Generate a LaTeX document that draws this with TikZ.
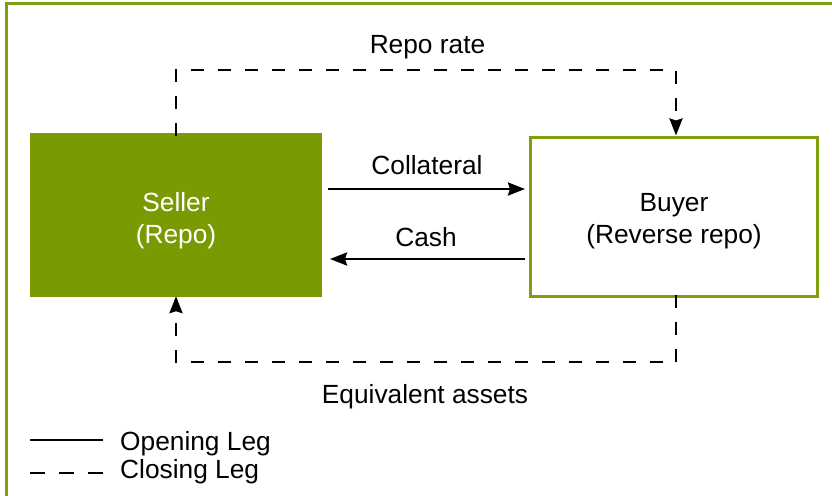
\documentclass[tikz,border=0pt]{standalone}
\usepackage{fontspec}
\setmainfont{Liberation Sans}
\usetikzlibrary{arrows.meta}
\definecolor{olive}{HTML}{7A9A02}
\definecolor{frame}{HTML}{7FA00E}
\tikzset{
  lbl/.style={font=\fontsize{26.3}{32}\selectfont, text=black, inner sep=0pt, anchor=base},
  sellerbox/.style={fill=olive, draw=none, minimum width=292pt, minimum height=164pt},
  buyerbox/.style={draw=frame, line width=3pt, fill=white, minimum width=287pt, minimum height=159pt},
  solidarrow/.style={line width=2.6pt, -{Stealth[length=17pt,width=13pt,inset=2pt]}},
  dasharrow/.style={line width=2.6pt, dash pattern=on 13pt off 14pt, -{Stealth[length=17pt,width=13pt,inset=2pt]}},
}
\begin{document}
\begin{tikzpicture}[x=1pt,y=-1pt]
\useasboundingbox (0,0) rectangle (832,495);
\draw[frame, line width=3pt] (6,520) -- (6,4) -- (850,4);
\node[sellerbox] (seller) at (176,215) {};
\node[buyerbox] (buyer) at (673.5,216.5) {};
\node[lbl, text=white] (seller1) at (176,211.7) {Seller};
\node[lbl, text=white] (seller2) at (176,243.5) {(Repo)};
\node[lbl] (buyer1) at (674,211.7) {Buyer};
\node[lbl] (buyer2) at (674,243.5) {(Reverse repo)};
\coordinate (tl) at (176,70);
\coordinate (tr) at (676,70);
\coordinate (bl) at (176,362);
\coordinate (br) at (676,362);
\draw[dasharrow] ([yshift=-3pt]seller.north) -- (tl) -- (tr) -- (tr |- buyer.north);
\draw[dasharrow] ([yshift=3pt]br |- buyer.south) -- (br) -- (bl) -- ([yshift=1pt]seller.south);
\coordinate (c1) at (328,189);
\coordinate (c2) at (525,189);
\coordinate (k1) at (525,259);
\coordinate (k2) at (330,259);
\draw[solidarrow] (c1) -- (c2);
\draw[solidarrow] (k1) -- (k2);
\node[lbl] (repo) at (427.5,53.3) {Repo rate};
\node[lbl] (coll) at (427,174) {Collateral};
\node[lbl] (cash) at (426,246) {Cash};
\node[lbl] (equiv) at (425,403) {Equivalent assets};
\coordinate (l1a) at (30,440);
\coordinate (l1b) at (103,440);
\coordinate (l2a) at (30,473);
\coordinate (l2b) at (103,473);
\draw[line width=2.6pt] (l1a) -- (l1b);
\draw[line width=2.6pt, dash pattern=on 15pt off 14pt] (l2a) -- (l2b);
\node[lbl, anchor=base west] (open) at (120,450.7) {Opening Leg};
\node[lbl, anchor=base west] (close) at (120,478.5) {Closing Leg};
\end{tikzpicture}
\end{document}
